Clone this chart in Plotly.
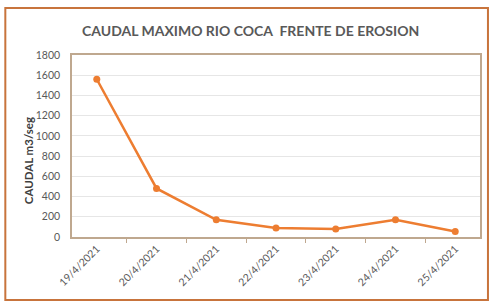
import plotly.graph_objects as go

fechas = ["19/4/2021", "20/4/2021", "21/4/2021", "22/4/2021", "23/4/2021", "24/4/2021", "25/4/2021"]
caudal = [1560, 480, 170, 90, 80, 170, 55]
y_ticks = [0, 200, 400, 600, 800, 1000, 1200, 1400, 1600, 1800]

W, H = 491, 303
L, R, T, B = 72, 9, 55, 66

fig = go.Figure()
fig.add_trace(go.Scatter(
    x=fechas, y=caudal, mode="lines+markers",
    line=dict(color="#ED7D31", width=2.5),
    marker=dict(color="#ED7D31", size=7),
    hoverinfo="skip", showlegend=False,
))

font = "Lato, 'Open Sans', sans-serif"
fig.update_layout(
    width=W, height=H,
    margin=dict(l=L, r=R, t=T, b=B),
    paper_bgcolor="white", plot_bgcolor="white",
    font=dict(family=font, color="#595959", size=10),
    xaxis=dict(
        type="category", tickangle=-45, tickson="boundaries",
        ticks="outside", ticklen=4, tickcolor="#BFA88F",
        showline=True, linecolor="#BFA88F", linewidth=1.5, mirror=True,
        showgrid=False, tickfont=dict(size=10.5, color="#595959"),
    ),
    yaxis=dict(
        range=[0, 1800], tickvals=y_ticks, ticks="", ticklabelstandoff=8,
        showline=True, linecolor="#BFA88F", linewidth=1.5, mirror=True,
        gridcolor="#E6E6E6", gridwidth=1, zeroline=False,
        tickfont=dict(size=10.5, color="#595959"),
    ),
    shapes=[dict(type="rect", xref="paper", yref="paper",
                 x0=(5 - L) / (W - L - R), x1=(490 - L) / (W - L - R),
                 y0=(H - B - 300) / (H - T - B), y1=(H - B - 8) / (H - T - B),
                 line=dict(color="#C8743C", width=2), layer="below")],
    annotations=[
        dict(text="<b>CAUDAL MAXIMO RIO COCA  FRENTE DE EROSION</b>",
             xref="paper", yref="paper",
             x=(251 - L) / (W - L - R), y=(H - B - 30) / (H - T - B),
             showarrow=False, font=dict(size=14, color="#595959", family=font),
             xanchor="center", yanchor="middle"),
        dict(text="<b>CAUDAL m3/seg</b>", textangle=-90,
             xref="paper", yref="paper",
             x=(28 - L) / (W - L - R), y=(H - B - 161) / (H - T - B),
             showarrow=False, font=dict(size=11.5, color="#404040", family=font),
             xanchor="center", yanchor="middle"),
    ],
)

fig.write_html("out.html", config={"displayModeBar": False},
               post_script="document.body.style.margin='0';document.body.style.overflow='hidden';")
